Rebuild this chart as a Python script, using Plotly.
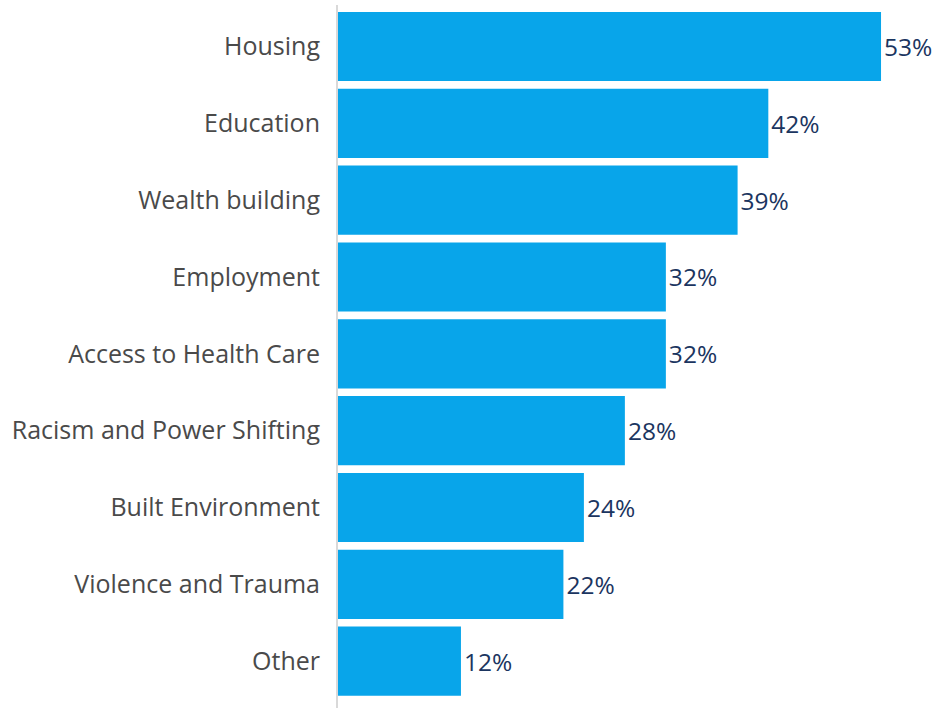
import plotly.graph_objects as go

categories = [
    "Housing",
    "Education",
    "Wealth building",
    "Employment",
    "Access to Health Care",
    "Racism and Power Shifting",
    "Built Environment",
    "Violence and Trauma",
    "Other",
]
values = [53, 42, 39, 32, 32, 28, 24, 22, 12]
value_labels = [f"{v}%" for v in values]

BAR_COLOR = "#08a5ea"
LABEL_COLOR = "#4a4a4a"
VALUE_COLOR = "#1b3560"
FONT = "Open Sans"

fig = go.Figure(
    go.Bar(
        x=values,
        y=categories,
        orientation="h",
        marker=dict(color=BAR_COLOR, line=dict(width=0)),
        text=value_labels,
        textposition="outside",
        textfont=dict(family=FONT, size=24.5, color=VALUE_COLOR),
        cliponaxis=False,
        hoverinfo="skip",
    )
)

fig.update_layout(
    width=934,
    height=708,
    margin=dict(l=338, r=0, t=5, b=0),
    paper_bgcolor="white",
    plot_bgcolor="white",
    bargap=0.1,
    showlegend=False,
    font=dict(family=FONT),
    xaxis=dict(
        range=[0, 58.17],
        visible=False,
        showgrid=False,
        zeroline=False,
    ),
    yaxis=dict(
        type="category",
        categoryorder="array",
        categoryarray=categories,
        range=[8.61, -0.54],
        showgrid=False,
        zeroline=False,
        showline=True,
        linecolor="#d9d9d9",
        linewidth=2,
        ticks="",
        ticklabelstandoff=11,
        tickfont=dict(family=FONT, size=25, color=LABEL_COLOR),
    ),
)

fig.write_html("out.html")
